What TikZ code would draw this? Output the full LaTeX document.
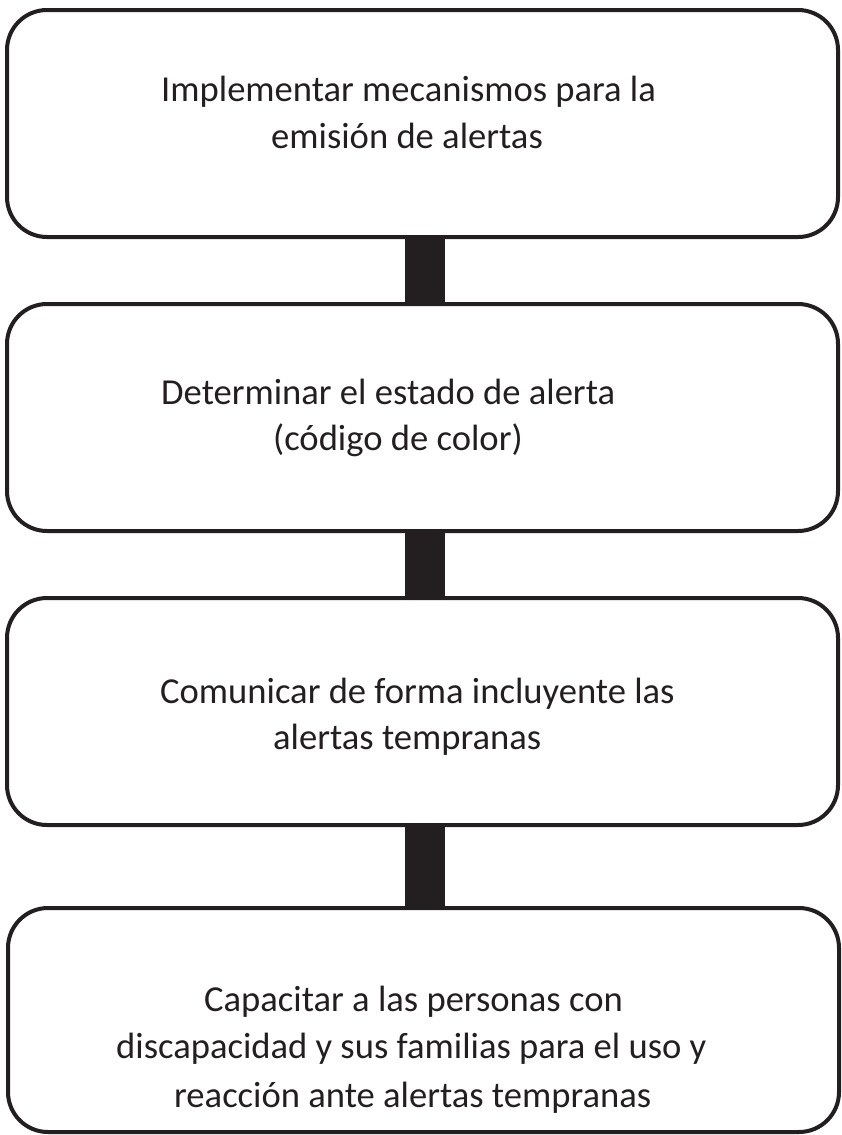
\documentclass[tikz,border=0pt]{standalone}
\usepackage{fontspec}
\setmainfont{Carlito}
\definecolor{ink}{HTML}{231F20}
\tikzset{
  stepbox/.style={draw=ink, line width=4pt, rounded corners=40pt, minimum width=831pt, inner sep=0pt},
  txt/.style={anchor=base west, inner sep=0pt, text=ink, font=\fontsize{36.6}{44}\selectfont},
  conn/.style={draw=ink, line width=40pt}
}
\begin{document}
\begin{tikzpicture}[x=1pt,y=-1pt]
\useasboundingbox (0,0) rectangle (842,1135);
% boxes
\node[stepbox, minimum height=227pt] (b1) at (422.5,123.5) {};
\node[stepbox, minimum height=227pt] (b2) at (422.5,417.5) {};
\node[stepbox, minimum height=227pt] (b3) at (422.5,711.5) {};
\node[stepbox, minimum height=224pt] (b4) at (423.5,1020) {};
% connectors
\coordinate (cx) at (425,0);
\draw[conn] (b1.south -| cx) -- (b2.north -| cx);
\draw[conn] (b2.south -| cx) -- (b3.north -| cx);
\draw[conn] (b3.south -| cx) -- (b4.north -| cx);
% texts
\node[txt] (t11) at (161,101) {Implementar mecanismos para la};
\node[txt] (t12) at (271,148) {emisión de alertas};
\node[txt] (t21) at (161,404) {Determinar el estado de alerta};
\node[txt] (t22) at (273,450) {(código de color)};
\node[txt] (t31) at (160,703) {Comunicar de forma incluyente las};
\node[txt] (t32) at (273,749) {alertas tempranas};
\node[txt] (t41) at (204,1011) {Capacitar a las personas con};
\node[txt] (t42) at (116,1058) {discapacidad y sus familias para el uso y};
\node[txt] (t43) at (174,1107) {reacción ante alertas tempranas};
\end{tikzpicture}
\end{document}
